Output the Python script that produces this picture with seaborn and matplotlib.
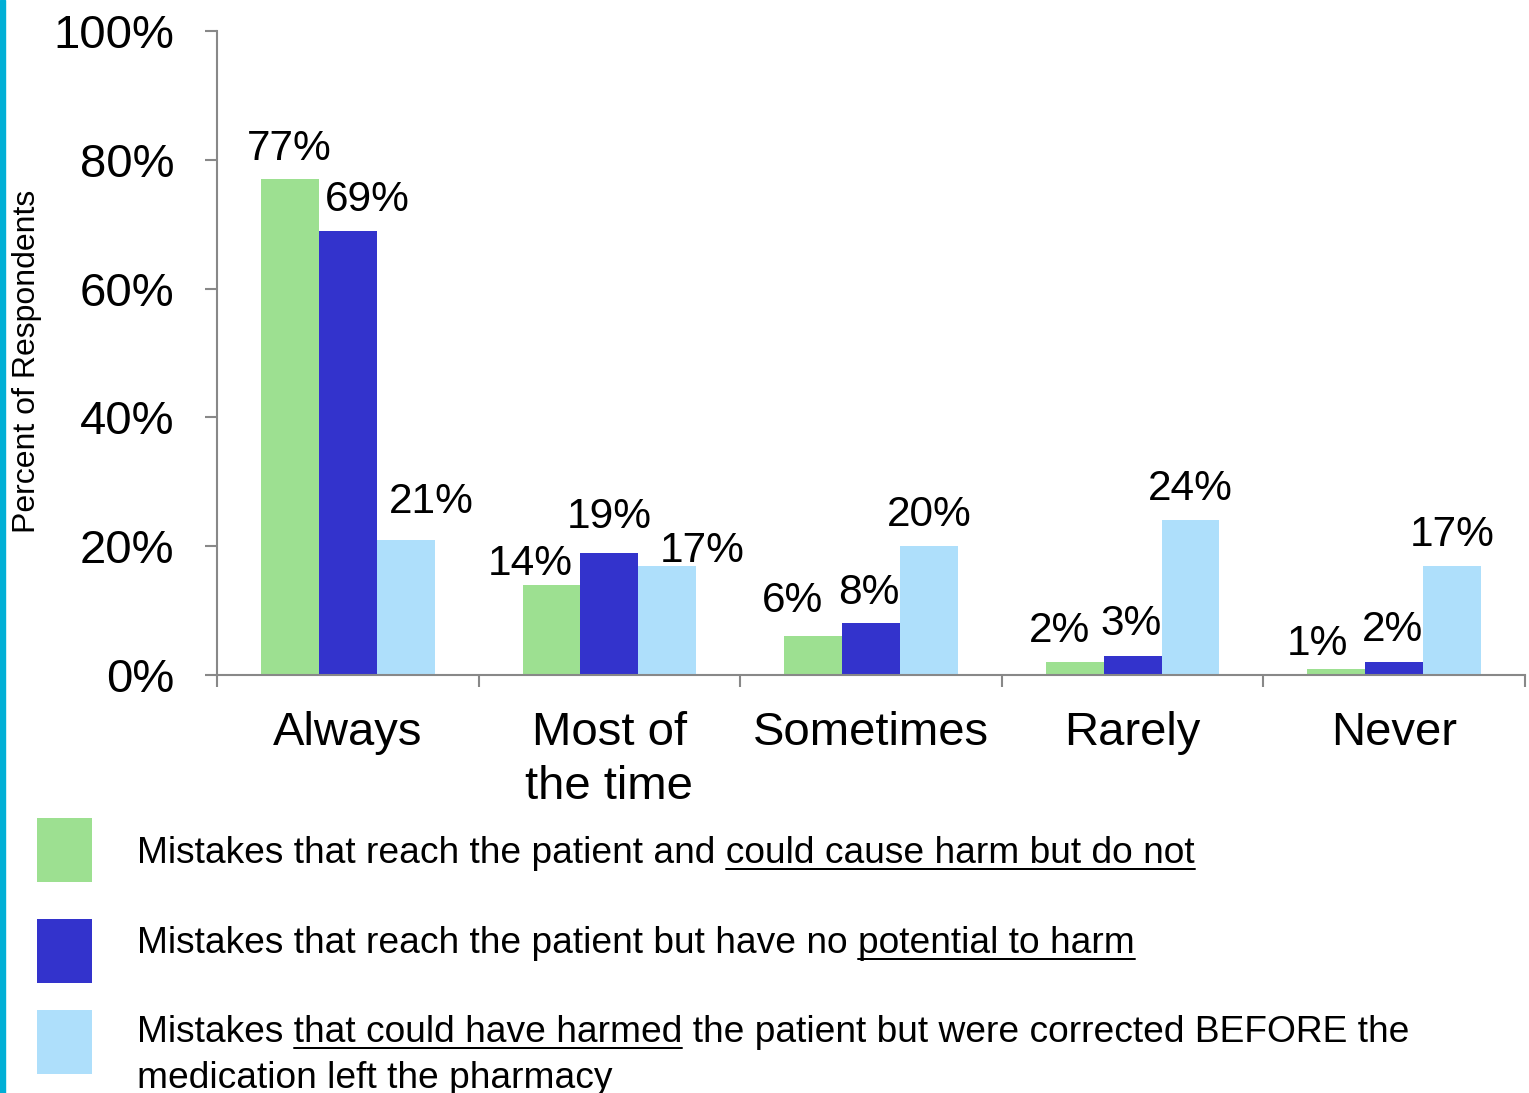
import matplotlib
matplotlib.use("Agg")
import matplotlib.pyplot as plt
import matplotlib.transforms as mtransforms
from matplotlib.patches import Rectangle
from matplotlib.lines import Line2D
import seaborn as sns
import pandas as pd

# ---------------- data ----------------
categories = ["Always", "Most of\nthe time", "Sometimes", "Rarely", "Never"]
series_names = [
    "Could cause harm but do not",
    "No potential to harm",
    "Could have harmed, corrected before",
]
could_harm_not = [77, 14, 6, 2, 1]
no_potential = [69, 19, 8, 3, 2]
corrected_before = [21, 17, 20, 24, 17]
y_ticks = [0, 20, 40, 60, 80, 100]
y_tick_labels = ["0%", "20%", "40%", "60%", "80%", "100%"]
y_label = "Percent of Respondents"

legend_items = [
    [[("Mistakes that reach the patient and ", False), ("could cause harm but do not", True)]],
    [[("Mistakes that reach the patient but have no ", False), ("potential to harm", True)]],
    [[("Mistakes ", False), ("that could have harmed", True),
      (" the patient but were corrected BEFORE the", False)],
     [("medication left the pharmacy", False)]],
]

colors = ["#9de091", "#3333cc", "#aedffb"]

# label nudges in pixels (dx, dy above bar top), per series per category
label_nudges = [
    [(-1, 19), (-21, 10), (-21, 24), (-15, 20), (-19, 14)],
    [(20, 20), (0, 25), (-2, 19), (-2, 21), (-2, 21)],
    [(26, 27), (35, 4), (0, 20), (0, 20), (0, 20)],
]

# ---------------- styling ----------------
W, H = 1529, 1093
sns.set_style("white")
plt.rcParams["font.family"] = ["Liberation Sans", "DejaVu Sans"]
plt.rcParams["text.color"] = "black"
plt.rcParams["xtick.labelcolor"] = "black"
plt.rcParams["ytick.labelcolor"] = "black"
PX = 72 / 100.0  # points per pixel at dpi 100

rows = []
for s, vals in zip(series_names, [could_harm_not, no_potential, corrected_before]):
    for c, v in zip(categories, vals):
        rows.append({"category": c, "series": s, "value": v})
df = pd.DataFrame(rows)

fig = plt.figure(figsize=(W / 100, H / 100), dpi=100)
ax = fig.add_axes([217 / W, 1 - 675 / H, (1525 - 217) / W, (675 - 31) / H])

sns.barplot(data=df, x="category", y="value", hue="series", order=categories,
            hue_order=series_names, palette=colors, width=0.664, gap=0,
            linewidth=0, saturation=1, legend=False, ax=ax, errorbar=None)

ax.set_xlim(-0.5, len(categories) - 0.5)
ax.set_ylim(0, 100)
ax.set_xlabel("")
ax.set_ylabel("")

spine_color = "#888888"
for side in ["top", "right"]:
    ax.spines[side].set_visible(False)
for side in ["left", "bottom"]:
    ax.spines[side].set_color(spine_color)
    ax.spines[side].set_linewidth(1.5)

ax.set_yticks(y_ticks)
ax.set_yticklabels(y_tick_labels, fontsize=34, color="black")
ax.tick_params(axis="y", direction="out", length=12 * PX, width=1.5,
               color=spine_color, pad=22, left=True)

ax.set_xticks(range(len(categories)))
ax.set_xticklabels(categories, fontsize=34, linespacing=1.29, color="black")
ax.tick_params(axis="x", which="major", length=0, pad=26)
ax.set_xticks([i - 0.5 for i in range(len(categories) + 1)], minor=True)
ax.tick_params(axis="x", which="minor", direction="out", length=12 * PX,
               width=1.5, color=spine_color, bottom=True)

# data labels
for si, cont in enumerate(ax.containers):
    for ci, bar in enumerate(cont):
        v = bar.get_height()
        dx, dy = label_nudges[si][ci]
        ax.annotate(f"{v:.0f}%", (bar.get_x() + bar.get_width() / 2, v),
                    xytext=(dx * PX, dy * PX), textcoords="offset points",
                    ha="center", va="baseline", fontsize=30.5, color="black")

# y label
fig.text(27 / W, 1 - 361 / H, y_label, rotation=90, ha="center", va="center",
         fontsize=23, color="black")

# left cyan bar
fig.add_artist(Rectangle((0, 0), 5 / W, 1, transform=fig.transFigure,
                         color="#00afd6", zorder=10))

# legend
renderer = fig.canvas.get_renderer()
LEG_FS = 26.7


def text_width(s):
    t1 = fig.text(0, 0, "H" + s + "H", fontsize=LEG_FS)
    t2 = fig.text(0, 0, "HH", fontsize=LEG_FS)
    w = t1.get_window_extent(renderer).width - t2.get_window_extent(renderer).width
    t1.remove()
    t2.remove()
    return w


pix = mtransforms.IdentityTransform()
patch_tops = [818, 919, 1010]
baselines = [[863], [953], [1042, 1088]]
text_x = 137
for i, item in enumerate(legend_items):
    fig.add_artist(Rectangle((37 / W, 1 - (patch_tops[i] + 64) / H), 55 / W, 64 / H,
                             transform=fig.transFigure, color=colors[i], lw=0))
    for line, base in zip(item, baselines[i]):
        full = "".join(s for s, _ in line)
        fig.text(text_x, H - base, full, transform=pix, fontsize=LEG_FS,
                 ha="left", va="baseline", color="black")
        prefix = ""
        for seg, und in line:
            if und:
                x0 = text_x + text_width(prefix)
                x1 = x0 + text_width(seg)
                fig.add_artist(Line2D([x0, x1], [H - base - 6, H - base - 6],
                                      transform=pix, color="black", lw=2 * PX))
            prefix += seg

fig.savefig("out.png", dpi=100)
